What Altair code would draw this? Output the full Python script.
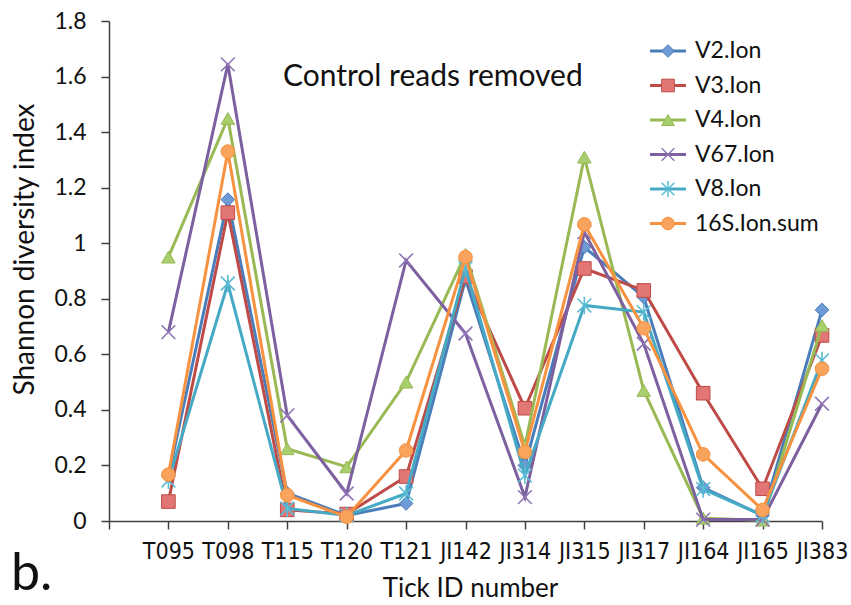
import json
import altair as alt
import pandas as pd

# Tick IDs along the x axis
ticks = ["T095", "T098", "T115", "T120", "T121", "JI142",
         "JI314", "JI315", "JI317", "JI164", "JI165", "JI383"]

# Shannon diversity index per tick, one list per amplicon series
series_names = ["V2.Ion", "V3.Ion", "V4.Ion", "V67.Ion", "V8.Ion", "16S.Ion.sum"]
v2 = [0.16, 1.157, 0.10, 0.02, 0.063, 0.87, 0.20, 0.986, 0.806, 0.12, 0.02, 0.76]
v3 = [0.07, 1.11, 0.04, 0.025, 0.16, 0.88, 0.406, 0.909, 0.83, 0.46, 0.116, 0.668]
v4 = [0.95, 1.449, 0.26, 0.195, 0.50, 0.96, 0.27, 1.31, 0.47, 0.01, 0.003, 0.704]
v67 = [0.68, 1.644, 0.38, 0.099, 0.938, 0.675, 0.086, 1.04, 0.638, 0.005, 0.005, 0.422]
v8 = [0.146, 0.855, 0.045, 0.02, 0.099, 0.91, 0.164, 0.776, 0.752, 0.115, 0.02, 0.578]
s16 = [0.167, 1.33, 0.093, 0.015, 0.254, 0.95, 0.248, 1.068, 0.694, 0.24, 0.04, 0.548]
series_values = [v2, v3, v4, v67, v8, s16]

# Styling per series: line colour, marker fill, marker shape, filled?
line_colors = ["#4A7EBB", "#BE4B48", "#98B954", "#7D60A0", "#46AAC5", "#F69240"]
fill_colors = ["#6E9BD6", "#E27674", "#A9CE6E", "#8C6FB0", "#5BBBD4", "#F9A35C"]
shapes = ["diamond", "square", "triangle-up",
          "M-1,-1L1,1M1,-1L-1,1",
          "M-1,-1L1,1M1,-1L-1,1M0,-1.25L0,1.25",
          "circle"]
filled = [True, True, True, False, False, True]

FONT = "Lato"
NARROW = "DejaVu Sans Condensed, Lato"

label_expr = "datum.value < 0 ? '' : " + json.dumps(ticks) + "[datum.value]"

x_enc = alt.X(
    "idx:Q",
    scale=alt.Scale(domain=[-1, 11], nice=False, zero=False),
    axis=alt.Axis(
        values=list(range(-1, 12)),
        labelExpr=label_expr,
        title="Tick ID number",
        titleFont=FONT, titleFontSize=26, titleFontWeight="normal",
        titleColor="#111111", titleY=67, titleBaseline="middle",
        titleX=361,
        labelFont=NARROW, labelFontSize=23,
        labelColor="#111111", labelPadding=11, labelFlush=False,
        labelOverlap=False,
        domainColor="#404040", domainWidth=1.5,
        tickColor="#404040", tickWidth=1.5, tickSize=8,
        grid=False,
    ),
)

y_enc = alt.Y(
    "value:Q",
    scale=alt.Scale(domain=[0, 1.8], nice=False),
    axis=alt.Axis(
        values=[0, 0.2, 0.4, 0.6, 0.8, 1, 1.2, 1.4, 1.6, 1.8],
        format="~g",
        title="Shannon diversity index",
        titleFont=FONT, titleFontSize=28, titleFontWeight="normal",
        titleColor="#111111", titleX=-84, titleY=228,
        titleBaseline="middle",
        labelFont=FONT, labelFontSize=23, labelColor="#111111",
        labelPadding=15, labelFlush=False,
        domainColor="#404040", domainWidth=1.5,
        tickColor="#404040", tickWidth=1.5, tickSize=8,
        grid=False,
    ),
)

layers = []
for name, vals, lc, fc, shp, fl in zip(series_names, series_values,
                                       line_colors, fill_colors, shapes, filled):
    df = pd.DataFrame({"idx": list(range(len(ticks))), "value": vals,
                       "tick": ticks, "series": name})
    base = alt.Chart(df).encode(x=x_enc, y=y_enc)
    line = base.mark_line(color=lc, strokeWidth=3)
    if fl:
        pts = base.mark_point(shape=shp, size=185, filled=True, fill=fc,
                              stroke=lc, strokeWidth=1, opacity=1)
    else:
        pts = base.mark_point(shape=shp, size=190, filled=False,
                              stroke=fc if name == "V8.Ion" else "#8F74B5",
                              strokeWidth=1.6, opacity=1)
    layers += [line, pts]

# Legend block in the upper right of the plot
legend_rows_y = [30, 64.5, 99, 133.5, 168, 202.5]
for name, ly, lc, fc, shp, fl in zip(series_names, legend_rows_y, line_colors,
                                     fill_colors, shapes, filled):
    ldf = pd.DataFrame({"series": [name]})
    lbase = alt.Chart(ldf)
    layers.append(lbase.mark_rule(color=lc, strokeWidth=3).encode(
        x=alt.value(541), x2=alt.value(577), y=alt.value(ly)))
    if fl:
        layers.append(lbase.mark_point(shape=shp, size=160, filled=True, fill=fc,
                                       stroke=lc, strokeWidth=1, opacity=1).encode(
            x=alt.value(559), y=alt.value(ly)))
    else:
        layers.append(lbase.mark_point(shape=shp, size=160, filled=False,
                                       stroke=fc if name == "V8.Ion" else "#8F74B5",
                                       strokeWidth=1.5, opacity=1).encode(
            x=alt.value(559), y=alt.value(ly)))
    layers.append(lbase.mark_text(align="left", baseline="middle", font=FONT,
                                  fontSize=23, color="#111111").encode(
        x=alt.value(586), y=alt.value(ly), text="series:N"))

note = alt.Chart(pd.DataFrame({"t": ["Control reads removed"]})).mark_text(
    align="left", baseline="middle", font=FONT, fontSize=30, color="#111111"
).encode(x=alt.value(174), y=alt.value(56), text="t:N")

panel = alt.Chart(pd.DataFrame({"t": ["b."]})).mark_text(
    align="left", baseline="middle", font=FONT, fontSize=52, color="#111111"
).encode(x=alt.value(-98), y=alt.value(553), text="t:N")

chart = alt.layer(*layers, note, panel).properties(
    width=713,
    height=500,
    autosize=alt.AutoSizeParams(type="none"),
    padding={"left": 109, "top": 21, "right": 29, "bottom": 84},
    background="white",
).configure_view(stroke=None)

chart.save("out.html", embed_options={"renderer": "svg", "actions": False})
